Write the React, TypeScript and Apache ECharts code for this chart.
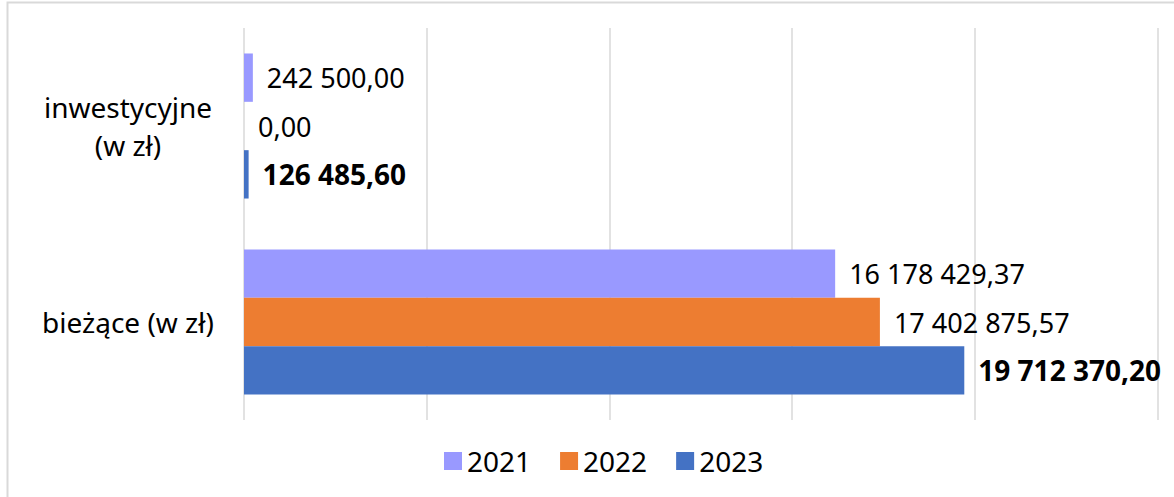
import React, { useEffect, useRef } from "react";
import * as echarts from "echarts";

const categories = ["inwestycyjne\n(w zł)", "bieżące (w zł)"];
const seriesNames = ["2021", "2022", "2023"];
const values2021 = [242500.0, 16178429.37];
const values2022 = [0.0, 17402875.57];
const values2023 = [126485.6, 19712370.2];
const colors = ["#9999FF", "#ED7D31", "#4472C4"];
const FONT = "'Noto Sans', 'Open Sans', sans-serif";

function fmt(v: number): string {
  const [i, d] = v.toFixed(2).split(".");
  const int = i.replace(/\B(?=(\d{3})+(?!\d))/g, " ");
  return int + "," + d;
}

export default function App() {
  const ref = useRef<HTMLDivElement>(null);
  useEffect(() => {
    if (!ref.current) return;
    const chart = echarts.init(ref.current, null, { renderer: "svg" });
    const data = [values2021, values2022, values2023];
    chart.setOption({
      animation: false,
      backgroundColor: "#ffffff",
      grid: { left: 244, right: 16.5, top: 28, bottom: 77, containLabel: false },
      xAxis: {
        type: "value",
        min: 0,
        max: 25000000,
        interval: 5000000,
        axisLabel: { show: false },
        axisLine: { show: false },
        axisTick: { show: false },
        splitLine: { lineStyle: { color: "#d9d9d9", width: 1.5 } },
      },
      yAxis: {
        type: "category",
        data: categories,
        inverse: true,
        axisLine: { show: false },
        axisTick: { show: false },
        axisLabel: {
          fontSize: 28,
          fontFamily: FONT,
          color: "#000",
          align: "center",
          margin: 116,
          lineHeight: 38,
        },
      },
      legend: {
        data: seriesNames,
        left: 439,
        top: 442,
        icon: "rect",
        itemWidth: 18,
        itemHeight: 18,
        itemGap: 29,
        textStyle: { fontSize: 28, fontFamily: FONT, color: "#000" },
      },
      graphic: [
        {
          type: "polyline",
          shape: { points: [[7.5, 500], [7.5, 2.5], [1180, 2.5]] },
          style: { stroke: "#d9d9d9", lineWidth: 2, fill: null },
          silent: true,
        },
      ],
      series: seriesNames.map((name, idx) => ({
        name,
        type: "bar",
        data: data[idx],
        barGap: "0%",
        barCategoryGap: "26%",
        itemStyle: { color: colors[idx] },
        label: {
          show: true,
          position: "right",
          distance: 14,
          fontSize: idx === 2 ? 28 : 27,
          fontFamily: FONT,
          color: "#000",
          fontWeight: idx === 2 ? "bold" : "normal",
          formatter: (p: any) => fmt(p.value),
        },
      })),
    });
    return () => chart.dispose();
  }, []);
  return (
    <div
      ref={ref}
      style={{ position: "fixed", left: 0, top: 0, width: 1174, height: 497 }}
    />
  );
}
